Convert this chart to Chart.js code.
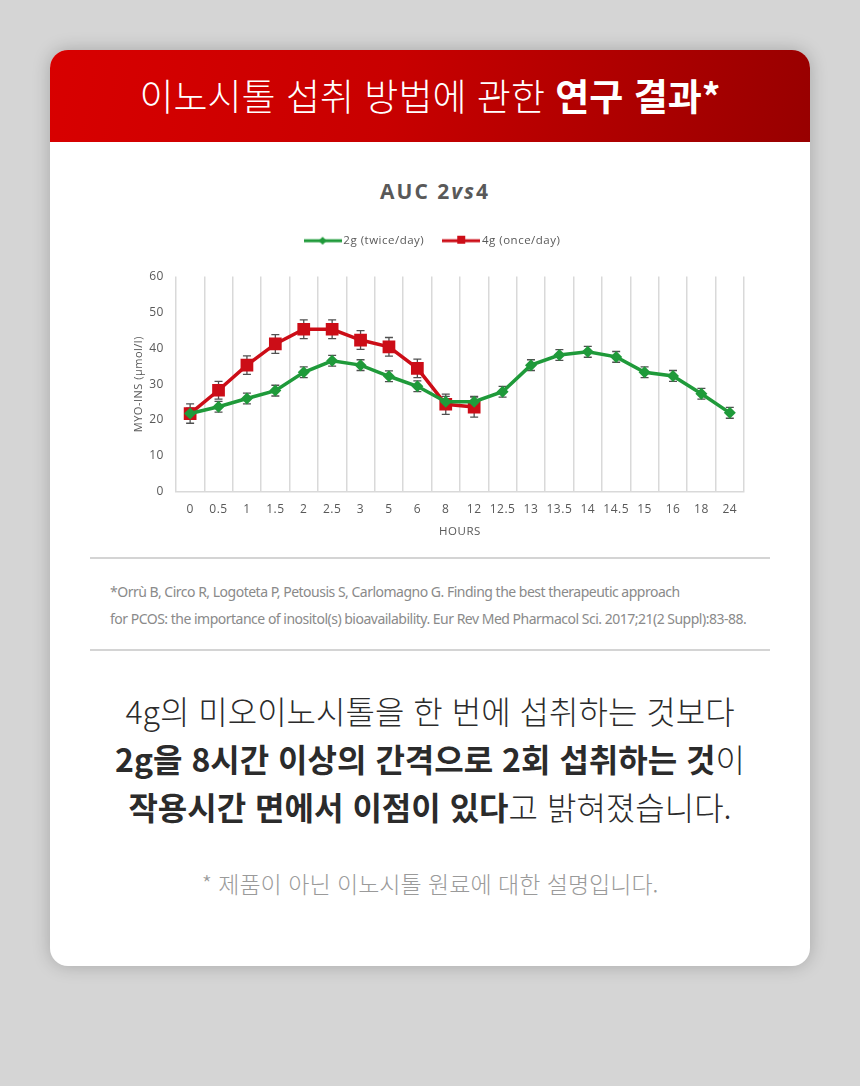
<!DOCTYPE html>
<html lang="ko">
<head>
<meta charset="utf-8">
<title>AUC 2vs4</title>
<script src="https://cdn.jsdelivr.net/npm/chart.js@4"></script>
<style>
  html, body { margin: 0; padding: 0; }
  body { width: 860px; height: 1086px; background: #d5d5d5; position: relative; overflow: hidden; }
  .card {
    position: absolute; left: 50px; top: 50px; width: 760px; height: 916px;
    background: #fff; border-radius: 18px; overflow: hidden;
    box-shadow: 0 0 18px rgba(0,0,0,0.22);
  }
  .head {
    height: 92px; background: linear-gradient(100deg, #d80000 0%, #c80000 45%, #980000 100%);
    color: #fff; text-align: center; font-family: "Noto Sans CJK KR", sans-serif;
    font-size: 37px; font-weight: 300; line-height: 90px; letter-spacing: 0;
  }
  .head b { font-weight: 700; }
  .ctitle {
    position: absolute; left: 5px; width: 760px; top: 127px; text-align: center;
    font-family: "Open Sans", sans-serif; font-weight: 700; font-size: 21px;
    color: #595959; letter-spacing: 2px;
  }
  .ctitle i { font-weight: 700; }
  .wrap { position: absolute; left: 40px; top: 175px; width: 680px; height: 320px; }
  .rule { position: absolute; left: 40px; width: 680px; height: 2px; background: #d4d4d4; }
  .ref {
    position: absolute; left: 60px; top: 528px; width: 690px;
    font-family: "Liberation Sans Narrow", "Noto Sans", sans-serif; font-size: 14px;
    color: #8a8a8a; line-height: 27px; letter-spacing: -0.5px;
  }
  .msg {
    position: absolute; left: 0; width: 760px; top: 636px; text-align: center;
    font-family: "Noto Sans CJK KR", sans-serif; font-size: 32px; font-weight: 300;
    color: #2b2b2b; line-height: 48px; letter-spacing: 0;
  }
  .msg b { font-weight: 700; }
  .note {
    position: absolute; left: 0; width: 760px; top: 816px; text-align: center;
    font-family: "Noto Sans CJK KR", sans-serif; font-size: 23px; font-weight: 300;
    color: #9a9a9a; letter-spacing: 0;
  }
</style>
</head>
<body>
<div class="card">
  <div class="head">이노시톨 섭취 방법에 관한 <b>연구 결과*</b></div>
  <div class="ctitle">AUC 2<i>vs</i>4</div>
  <div class="wrap"><canvas id="linechart"></canvas></div>
  <div class="rule" style="top:507px"></div>
  <div class="ref">*Orrù B, Circo R, Logoteta P, Petousis S, Carlomagno G. Finding the best therapeutic approach<br>for PCOS: the importance of inositol(s) bioavailability. Eur Rev Med Pharmacol Sci. 2017;21(2 Suppl):83-88.</div>
  <div class="rule" style="top:599px"></div>
  <div class="msg">4g의 미오이노시톨을 한 번에 섭취하는 것보다<br><b>2g을 8시간 이상의 간격으로 2회 섭취하는 것</b>이<br><b>작용시간 면에서 이점이 있다</b>고 밝혀졌습니다.</div>
  <div class="note">* 제품이 아닌 이노시톨 원료에 대한 설명입니다.</div>
</div>
<script>
// hours after intake
const hours = ['0', '0.5', '1', '1.5', '2', '2.5', '3', '5', '6', '8', '12', '12.5', '13', '13.5', '14', '14.5', '15', '16', '18', '24'];

// 2g twice a day
const twiceValues = [21.8, 23.7, 26.0, 28.2, 33.3, 36.5, 35.3, 32.2, 29.4, 25.1, 25.1, 27.9, 35.3, 38.1, 39.0, 37.6, 33.3, 32.3, 27.3, 22.0];
const twiceErrors = [1.5, 1.5, 1.5, 1.5, 1.5, 1.5, 1.5, 1.5, 1.5, 1.5, 1.5, 1.5, 1.5, 1.5, 1.5, 1.5, 1.5, 1.5, 1.5, 1.5];

// 4g once a day (measured only up to 12 h)
const onceValues = [21.8, 28.3, 35.3, 41.2, 45.3, 45.3, 42.3, 40.4, 34.4, 24.4, 23.6];
const onceErrors = [2.7, 2.5, 2.6, 2.6, 2.6, 2.6, 2.6, 2.6, 2.6, 2.8, 2.8];

const yTicks = [0, 10, 20, 30, 40, 50, 60];

const green = '#1f9a3a';
const red = '#cc0d17';

// legend icon: short line with the marker in the middle
function legendIcon(color, style) {
    var c = document.createElement('canvas');
    c.width = 38; c.height = 12;
    var g = c.getContext('2d');
    g.strokeStyle = color;
    g.fillStyle = color;
    g.lineWidth = 3;
    g.beginPath(); g.moveTo(0, 6); g.lineTo(38, 6); g.stroke();
    if (style === 'rect') {
        g.fillRect(15, 1, 8, 8);
    } else {
        g.beginPath(); g.moveTo(19, 2); g.lineTo(23, 6); g.lineTo(19, 10); g.lineTo(15, 6); g.closePath(); g.fill();
    }
    return c;
}

// error bars drawn through the chart's own scales
const errorBars = {
    id: 'errorBars',
    beforeDatasetsDraw(chart) {
        const ctx = chart.ctx;
        const y = chart.scales.y;
        ctx.save();
        ctx.strokeStyle = '#505050';
        ctx.lineWidth = 1.3;
        chart.data.datasets.forEach(function (ds, i) {
            const meta = chart.getDatasetMeta(i);
            meta.data.forEach(function (pt, j) {
                const v = ds.data[j], e = ds.errors[j];
                const top = y.getPixelForValue(v + e), bot = y.getPixelForValue(v - e);
                ctx.beginPath();
                ctx.moveTo(pt.x, top); ctx.lineTo(pt.x, bot);
                ctx.moveTo(pt.x - 4, top); ctx.lineTo(pt.x + 4, top);
                ctx.moveTo(pt.x - 4, bot); ctx.lineTo(pt.x + 4, bot);
                ctx.stroke();
            });
        });
        ctx.restore();
    }
};

// wider letter spacing like the original tick labels
const spacing = {
    id: 'spacing',
    beforeLayout(chart) { chart.ctx.letterSpacing = '0.5px'; },
    beforeDraw(chart) { chart.ctx.letterSpacing = '0.5px'; }
};

// extra room between the legend and the plot
const legendGap = {
    id: 'legendGap',
    beforeInit(chart) {
        const fit = chart.legend.fit;
        chart.legend.fit = function () {
            fit.bind(chart.legend)();
            this.height += 20;
        };
    }
};

const ctxLine = document.getElementById('linechart');

new Chart(ctxLine, {
    type: 'line',
    data: {
        labels: hours,
        datasets: [
            {
                label: '2g (twice/day)',
                data: twiceValues,
                errors: twiceErrors,
                borderColor: green,
                backgroundColor: green,
                borderWidth: 3.5,
                pointStyle: 'rectRot',
                pointRadius: 6,
                pointBorderWidth: 0,
                tension: 0
            },
            {
                label: '4g (once/day)',
                data: onceValues,
                errors: onceErrors,
                borderColor: red,
                backgroundColor: red,
                borderWidth: 3.5,
                pointStyle: 'rect',
                pointRadius: 9,
                pointBorderWidth: 0,
                tension: 0
            }
        ]
    },
    options: {
        responsive: true,
        maintainAspectRatio: false,
        animation: false,
        layout: { padding: { left: 34, right: 26, top: -12, bottom: 6 } },
        plugins: {
            legend: {
                position: 'top',
                labels: {
                    color: '#595959',
                    font: { family: 'Open Sans', size: 11.5 },
                    usePointStyle: true,
                    pointStyleWidth: 30,
                    padding: 22,
                    generateLabels: function (chart) {
                        return chart.data.datasets.map(function (ds, i) {
                            return {
                                text: ds.label,
                                pointStyle: legendIcon(ds.borderColor, ds.pointStyle),
                                fillStyle: ds.borderColor,
                                strokeStyle: ds.borderColor,
                                lineWidth: 0,
                                fontColor: '#595959',
                                datasetIndex: i
                            };
                        });
                    }
                }
            },
            tooltip: { enabled: false }
        },
        scales: {
            x: {
                offset: true,
                grid: { offset: true, color: '#d9d9d9', lineWidth: 1.5, drawTicks: false },
                border: { color: '#d9d9d9', width: 1.5 },
                ticks: { color: '#595959', font: { family: 'Open Sans', size: 12 }, padding: 11, maxRotation: 0, autoSkip: false },
                title: { display: true, text: 'HOURS', color: '#595959', font: { family: 'Open Sans', size: 11.5 }, padding: { top: -3, bottom: 0 } }
            },
            y: {
                min: yTicks[0],
                max: yTicks[yTicks.length - 1],
                afterBuildTicks: function (axis) { axis.ticks = yTicks.map(function (v) { return { value: v }; }); },
                grid: { display: false, drawTicks: false },
                border: { display: false },
                ticks: { color: '#595959', font: { family: 'Open Sans', size: 12 }, padding: 12 },
                title: { display: true, text: 'MYO-INS (µmol/l)', color: '#595959', font: { family: 'Open Sans', size: 11 }, padding: { top: 8, bottom: -8 } }
            }
        }
    },
    plugins: [errorBars, spacing, legendGap]
});
</script>
</body>
</html>
